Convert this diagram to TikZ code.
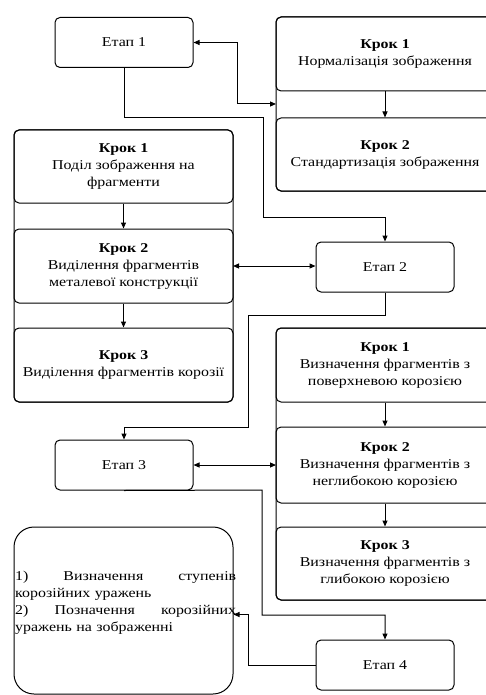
\documentclass[tikz,border=0pt]{standalone}
\usepackage{fontspec}
\setmainfont{Liberation Serif}[FakeStretch=1.18]
\usetikzlibrary{arrows.meta,calc}
\tikzset{
  box/.style={draw, rounded corners=5pt, line width=1pt, align=center, inner sep=2pt},
  stepbox/.style={box, minimum width=218pt},
  etap/.style={box, minimum width=138pt, minimum height=50pt},
  cont/.style={draw, rounded corners=5pt, line width=1pt},
  conn/.style={line width=1pt, -{Triangle[length=6pt,width=5pt]}},
  bconn/.style={line width=1pt, {Triangle[length=6pt,width=5pt]}-{Triangle[length=6pt,width=5pt]}},
}
\begin{document}
\begin{tikzpicture}[x=1pt,y=-1pt, font=\fontsize{13.5}{17}\selectfont]
\useasboundingbox (0,0) rectangle (485,695);
% containers
\draw[cont] (276,17) rectangle (494,191);
\draw[cont] (14,130) rectangle (233,402);
\draw[cont] (276,328) rectangle (494,600);
\coordinate (c1w) at (276,104);
\coordinate (c2e) at (233,266);
\coordinate (c3w) at (276,464);
% stage nodes
\node[etap] (e1) at (124,42.5) {Етап 1};
\node[etap] (e2) at (385,267) {Етап 2};
\node[etap] (e3) at (124,465) {Етап 3};
\node[etap] (e4) at (385,665) {Етап 4};
% top right steps
\node[stepbox, minimum height=74pt] (a1) at (385,54) {\textbf{Крок 1}\\Нормалізація зображення};
\node[stepbox, minimum height=73pt] (a2) at (385,154.5) {\textbf{Крок 2}\\Стандартизація зображення};
% left steps
\node[stepbox, minimum width=219pt, minimum height=73pt] (b1) at (123.5,166.5) {\textbf{Крок 1}\\Поділ зображення на\\фрагменти};
\node[stepbox, minimum width=219pt, minimum height=74pt] (b2) at (123.5,266) {\textbf{Крок 2}\\Виділення фрагментів\\металевої конструкції};
\node[stepbox, minimum width=219pt, minimum height=74pt] (b3) at (123.5,365) {\textbf{Крок 3}\\Виділення фрагментів корозії};
% bottom right steps
\node[stepbox, minimum height=74pt] (d1) at (385,365) {\textbf{Крок 1}\\Визначення фрагментів з\\поверхневою корозією};
\node[stepbox, minimum height=76pt] (d2) at (385,465) {\textbf{Крок 2}\\Визначення фрагментів з\\неглибокою корозією};
\node[stepbox, minimum height=73pt] (d3) at (385,563.5) {\textbf{Крок 3}\\Визначення фрагментів з\\глибокою корозією};
% final box
\node[draw, rounded corners=20pt, line width=1pt, minimum width=219pt, minimum height=167pt] (fin) at (123.5,610.5) {};
\node[anchor=north west, text width=221pt, inner sep=0pt, align=left] (fintext) at (15,571)
  {1)\hfill Визначення\hfill ступенів\\корозійних уражень\\2)\hfill Позначення\hfill корозійних\\уражень на зображенні};
% step arrows
\draw[conn] (a1) -- (a2);
\draw[conn] (b1) -- (b2);
\draw[conn] (b2) -- (b3);
\draw[conn] (d1) -- (d2);
\draw[conn] (d2) -- (d3);
% stage connectors
\draw[bconn] (e1.east) -- ++(44,0) |- (c1w);
\draw[conn] (e1.south) |- (263,118) -- (263,217) -| (e2.north);
\draw[bconn] (c2e) -- (c2e -| e2.west);
\draw[conn] (e2.south) |- (248,315) -- (248,427) -| (e3.north);
\draw[bconn] (e3.east) -- (e3.east -| c3w);
\draw[conn] (e3.south) -- (262,490) |- (385,615) -- (e4.north);
\draw[conn] (e4.west) -- (248,665) |- ($(fin.east)+(0,4)$);
\end{tikzpicture}
\end{document}
